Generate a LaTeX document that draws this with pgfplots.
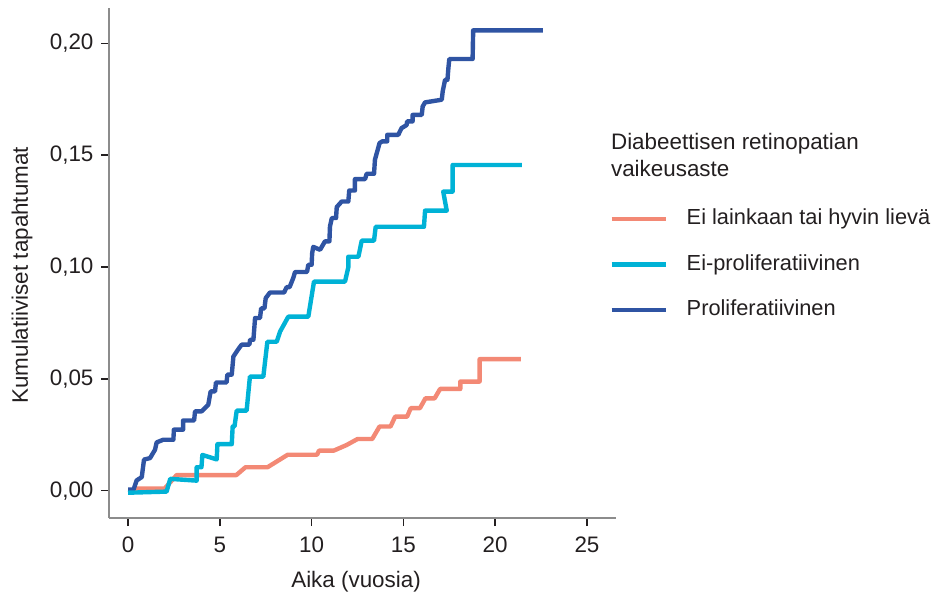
\documentclass[border=0pt]{standalone}
\usepackage{pgfplots}
\pgfplotsset{compat=1.18}
\usepackage{fontspec}
\setmainfont{Liberation Sans}
\definecolor{cSalmon}{RGB}{243,137,117}
\definecolor{cCyan}{RGB}{0,178,214}
\definecolor{cBlue}{RGB}{47,84,163}
\definecolor{axgray}{RGB}{140,140,140}
\definecolor{txt}{RGB}{35,31,32}
\begin{document}
\fontsize{11.2}{13.7}\selectfont
\begin{tikzpicture}[font=\fontsize{11.2}{13.7}\selectfont]
\begin{axis}[
  scale only axis, width=253.35pt, height=255pt,
  xmin=-1.02, xmax=26.58, ymin=-0.0122, ymax=0.2158,
  clip=false,
  axis x line*=bottom, axis y line*=left,
  axis line style={-, draw=axgray, line width=1pt},
  xtick={0,5,10,15,20,25}, ytick={0,0.05,0.1,0.15,0.2},
  tick align=outside, major tick length=4pt,
  tick style={draw=txt, line width=0.75pt},
  /pgf/number format/assume math mode=true,
  scaled y ticks=false,
  y tick label style={/pgf/number format/fixed, /pgf/number format/fixed zerofill, /pgf/number format/precision=2, /pgf/number format/use comma, text=txt},
  x tick label style={text=txt, yshift=-1.7pt},
  xlabel={Aika (vuosia)}, ylabel={Kumulatiiviset tapahtumat},
  xlabel style={at={(axis description cs:0.487,0)}, anchor=base, yshift=-34.5pt, text=txt},
  ylabel style={at={(axis description cs:-0.172,0.476)}, anchor=center, text=txt},
  legend image code/.code={\draw[#1, line width=2.2pt] (0pt,0pt) -- (27pt,0pt); \path[draw=none, fill=none] (0pt,0pt) -- (37.6pt,0pt);},
  legend cell align=left,
  legend style={draw=none, fill=none, inner sep=0pt, outer sep=0pt, row sep=12.35pt,
    nodes={inner sep=0pt, text height=8.0pt, text depth=2.3pt, text=txt, font=\fontsize{10.9}{13}\selectfont},
    at={(axis description cs:0.9868,0.606)}, anchor=north west},
  line join=round,
]
\addplot[cSalmon, line width=2.2pt, forget plot] coordinates {
(0.3,0.000) (0.5,0.001) (2.0,0.001) (2.65,0.0070) (5.9,0.0070) (6.4,0.0105) (7.6,0.0105)
(8.7,0.0161) (10.3,0.0161) (10.4,0.0179) (11.2,0.0179) (11.9,0.0204) (12.5,0.0231)
(13.3,0.0231) (13.7,0.0287) (14.3,0.0287) (14.55,0.0331) (15.2,0.0331) (15.4,0.0369)
(15.9,0.0369) (16.2,0.0413) (16.7,0.0413) (17.0,0.0455) (18.1,0.0455) (18.1,0.0488)
(19.15,0.0488) (19.15,0.0588) (21.4,0.0588)
};
\addplot[cBlue, line width=2.2pt, forget plot] coordinates {
(0.0,0.0005) (0.3,0.0005) (0.47,0.0046) (0.75,0.0061) (0.87,0.0139) (1.2,0.0146)
(1.47,0.0183) (1.56,0.0216) (1.92,0.0228) (2.47,0.0228) (2.5,0.0273) (3.0,0.0273)
(3.0,0.0314) (3.6,0.0314) (3.65,0.0355) (4.01,0.0355) (4.19,0.037) (4.37,0.0384)
(4.5,0.0444) (4.74,0.0444) (4.79,0.0484) (5.37,0.0484) (5.41,0.0519) (5.65,0.0519)
(5.74,0.0600) (6.01,0.0633) (6.19,0.0653) (6.61,0.0653) (6.65,0.0675) (6.83,0.0675)
(6.92,0.0772) (7.19,0.0772) (7.25,0.0815) (7.43,0.0815) (7.5,0.0861) (7.73,0.0886)
(8.5,0.0886) (8.64,0.0910) (8.8,0.0910) (9.0,0.0951) (9.1,0.0978) (9.75,0.0978)
(9.82,0.101) (10.0,0.101) (10.03,0.1062) (10.09,0.109) (10.46,0.1077) (10.73,0.1115)
(10.97,0.1115) (11.0,0.1181) (11.1,0.1219) (11.33,0.1219) (11.37,0.1268) (11.64,0.1293)
(12.0,0.1293) (12.05,0.1342) (12.36,0.1342) (12.36,0.1393) (12.91,0.1393) (13.0,0.1417)
(13.4,0.1417) (13.45,0.148) (13.6,0.1524) (13.7,0.1554) (13.85,0.1562) (14.12,0.1562)
(14.12,0.1591) (14.72,0.1591) (14.9,0.1621) (15.18,0.1635) (15.2,0.1651) (15.5,0.1651)
(15.5,0.168) (16.0,0.168) (16.05,0.1718) (16.18,0.1736) (17.09,0.1748) (17.14,0.1785)
(17.27,0.1837) (17.4,0.1837) (17.45,0.1889) (17.5,0.193) (18.77,0.193) (18.8,0.2058)
(22.6,0.2058)
};
\addplot[cCyan, line width=2.2pt, forget plot] coordinates {
(0.0,-0.0009) (2.1,-0.0004) (2.3,0.0053) (3.74,0.0045) (3.74,0.0105) (4.0,0.0105)
(4.05,0.0160) (4.83,0.0140) (4.87,0.0208) (5.65,0.0208) (5.7,0.0287) (5.8,0.0287)
(5.92,0.0358) (6.46,0.0358) (6.64,0.0510) (7.37,0.0510) (7.59,0.0666) (8.1,0.0666)
(8.28,0.0711) (8.73,0.0778) (9.82,0.0778) (10.13,0.0935) (11.82,0.0935) (12.0,0.0999)
(12.0,0.1046) (12.55,0.1046) (12.73,0.1118) (13.4,0.1118) (13.49,0.1180) (16.12,0.1180)
(16.18,0.1252) (17.36,0.1252) (17.17,0.1337) (17.68,0.1337) (17.68,0.1456) (21.45,0.1456)
};
\addlegendimage{cSalmon}
\addlegendentry{Ei lainkaan tai hyvin lievä}
\addlegendimage{cCyan}
\addlegendentry{Ei-proliferatiivinen}
\addlegendimage{cBlue}
\addlegendentry{Proliferatiivinen}
\node[anchor=base west, inner sep=0pt, text=txt] at (axis description cs:0.9895,0.7229) {Diabeettisen retinopatian};
\node[anchor=base west, inner sep=0pt, text=txt] at (axis description cs:0.9895,0.6692) {vaikeusaste};
\end{axis}
\pgfresetboundingbox
\path[use as bounding box] ([shift={(-54.65pt,-36.5pt)}]current axis.south west) rectangle ([shift={(412.35pt,259pt)}]current axis.south west);
\end{tikzpicture}
\end{document}
